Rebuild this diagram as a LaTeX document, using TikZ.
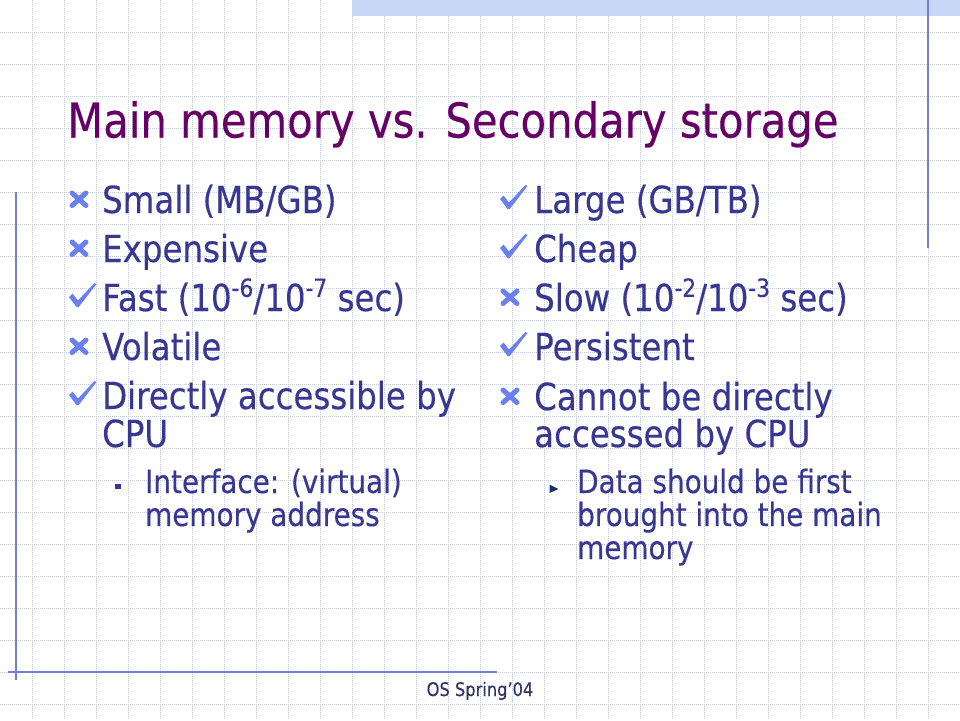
\documentclass[tikz,border=0pt]{standalone}
\usepackage{fontspec}
\setmainfont{DejaVu Sans}[FakeStretch=0.87,FakeBold=0.35]
\definecolor{titlec}{HTML}{660066}
\definecolor{bodyc}{HTML}{383893}
\definecolor{markc}{HTML}{6A80EE}
\definecolor{subc}{HTML}{1C3068}
\definecolor{gridc}{HTML}{C4CBE6}
\definecolor{barc}{HTML}{C9D7F7}
\definecolor{rulec}{HTML}{7080D8}
\definecolor{footc}{HTML}{333366}
\newcommand\titlefnt{\fontsize{48}{58}\selectfont}
\newcommand\bodyfnt{\fontsize{37.3}{45}\selectfont}
\newcommand\subfnt{\fontsize{32}{38}\selectfont}
\newcommand\footfnt{\fontsize{18.7}{22}\selectfont}
\newcommand\sups[1]{\raisebox{0.38em}{\fontsize{25}{25}\selectfont #1}}
\tikzset{
  titletext/.style={anchor=base west, inner sep=0pt, text=titlec, font=\titlefnt},
  bodytext/.style={anchor=base west, inner sep=0pt, text=bodyc, font=\bodyfnt},
  subtext/.style={anchor=base west, inner sep=0pt, text=bodyc, font=\subfnt},
  foottext/.style={anchor=base, inner sep=0pt, text=footc, font=\footfnt},
  gridline/.style={gridc, line width=1pt, dash pattern=on 1pt off 1pt},
  rule/.style={rulec, line width=1.3pt},
  xmark/.style={markc, line width=5pt, line cap=round},
  checkmark/.style={fill=markc, draw=none},
}
\newcommand\xbul[2]{% centre x, baseline
  \draw[xmark] (#1-7,#2-20) -- (#1+7,#2-7.5);
  \draw[xmark] (#1-7,#2-7.5) -- (#1+7,#2-20);
}
\newcommand\cbul[2]{% left x, baseline
  \fill[checkmark] (#1,#2-14) -- (#1+3.5,#2-17.5) -- (#1+9,#2-10.5) -- (#1+25.5,#2-28) -- (#1+27.5,#2-27)
     -- (#1+10.5,#2-5) -- (#1+9.5,#2-4) -- (#1+7.5,#2-4) -- cycle;
}
\begin{document}
\begin{tikzpicture}[x=1pt,y=-1pt]
\useasboundingbox (0,0) rectangle (960,720);
\fill[white] (0,0) rectangle (960,720);
% grid
\foreach \gx in {32,64,...,928} \draw[gridline] (\gx,0) -- (\gx,720);
\foreach \gy in {32,64,...,704} \draw[gridline] (0,\gy) -- (960,\gy);
% top bar and rules
\fill[barc] (352,0) rectangle (960,16);
\draw[rule] (928,0) -- (928,248);
\draw[rule] (16,192) -- (16,680);
\draw[rule] (8,672) -- (497,672);
% title
\node[titletext] (title) at (67,137.5) {Main memory vs. Secondary storage};
% left column
\xbul{79}{213}
\node[bodytext] (l1) at (102,213) {Small (MB/GB)};
\xbul{79}{262}
\node[bodytext] (l2) at (102,262) {Expensive};
\cbul{69}{311}
\node[bodytext] (l3) at (102,311) {Fast (10\sups{-6}/10\sups{-7} sec)};
\xbul{79}{360}
\node[bodytext] (l4) at (102,360) {Volatile};
\cbul{69}{409}
\node[bodytext] (l5) at (102,409) {Directly accessible by};
\node[bodytext] (l5b) at (102,447) {CPU};
\fill[bodyc] (115,483.5) rectangle (121,489);
\node[subtext] (l6) at (145,493) {Interface: (virtual)};
\node[subtext] (l6b) at (145,526) {memory address};
% right column
\cbul{500}{213}
\node[bodytext] (r1) at (534,213) {Large (GB/TB)};
\cbul{500}{262}
\node[bodytext] (r2) at (534,262) {Cheap};
\xbul{510}{311}
\node[bodytext] (r3) at (534,311) {Slow (10\sups{-2}/10\sups{-3} sec)};
\cbul{500}{360}
\node[bodytext] (r4) at (534,360) {Persistent};
\xbul{510}{410}
\node[bodytext] (r5) at (534,410) {Cannot be directly};
\node[bodytext] (r5b) at (534,447) {accessed by CPU};
\fill[subc] (549.5,484.5) -- (558.5,489) -- (549.5,493) -- cycle;
\node[subtext] (r6) at (577,493) {Data should be first};
\node[subtext] (r6b) at (577,526) {brought into the main};
\node[subtext] (r6c) at (577,559) {memory};
% footer
\node[foottext] (foot) at (480,696) {OS Spring’04};
\end{tikzpicture}
\end{document}
